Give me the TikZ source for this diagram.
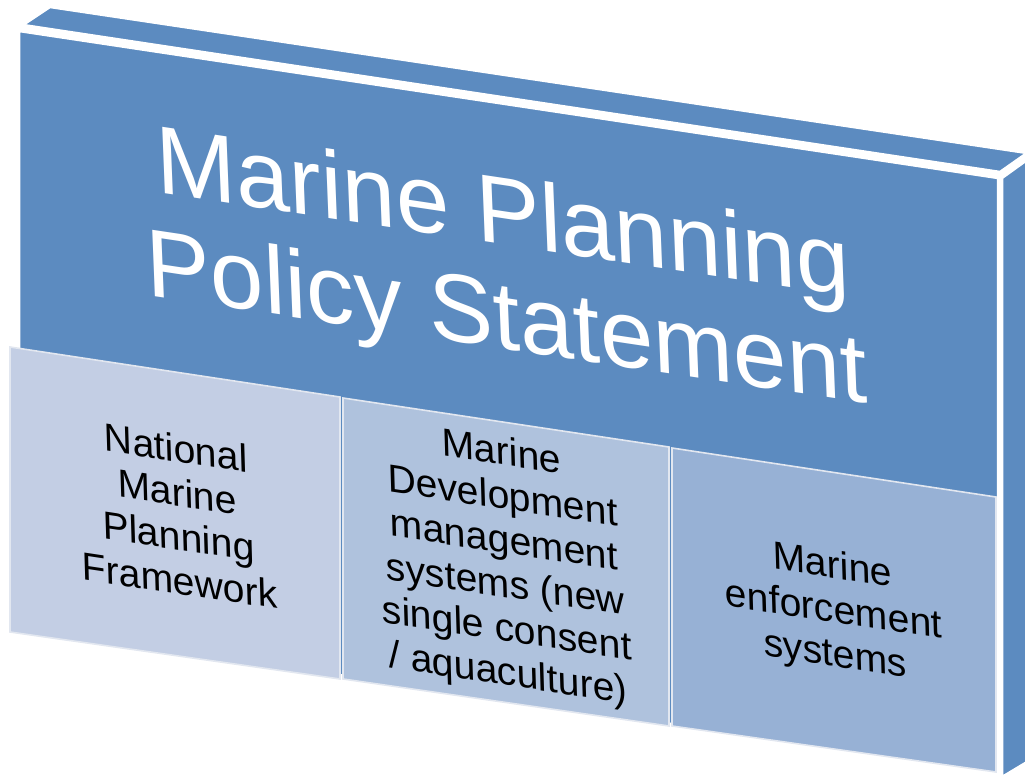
\documentclass[tikz,border=0pt]{standalone}
\usepackage{fontspec}
\setmainfont{Liberation Sans}
\definecolor{panelblue}{RGB}{92,139,192}
\definecolor{boxone}{RGB}{195,206,228}
\definecolor{boxtwo}{RGB}{175,194,221}
\definecolor{boxthree}{RGB}{151,177,213}
\definecolor{boxedge}{RGB}{226,231,240}

\begin{document}
\begin{tikzpicture}[x=1pt,y=-1pt]
\tikzset{
% Faces of the slab and the three boxes in front of it
face/.style={fill=panelblue,draw=white,line width=2.5pt,line join=round},
sub box/.style={draw=boxedge,line width=1.6pt},
% Text follows the slant of the slab
title text/.style={text=white,align=center,inner sep=0pt,
  font=\fontsize{96}{104}\selectfont,yslant=-0.15,xslant=-0.04},
box text/.style={text=black,align=center,inner sep=0pt,
  font=\fontsize{39}{44}\selectfont,yslant=-0.15,xslant=-0.03}
}
\useasboundingbox (0,0) rectangle (1025,775);

% The slab: top, side and front
\draw[face] (23,25) -- (50,7) -- (1027,153) -- (1000,172) -- cycle;
\draw[face] (1002,178) -- (1027,160) -- (1027,762) -- (1002,777) -- cycle;
\draw[face] (19,31) -- (998,178) -- (998,772) -- (19,628) -- cycle;

% The three boxes
\draw[sub box,fill=boxone] (10,347) -- (340,397) -- (340,679) -- (10,632) -- cycle;
\draw[sub box,fill=boxtwo] (343,398) -- (669,447) -- (669,726) -- (343,679) -- cycle;
\draw[sub box,fill=boxthree] (672,448) -- (996,497) -- (996,772) -- (672,726) -- cycle;

% Texts
\node(title)[title text] at (505,272) {Marine Planning\\Policy Statement};
\node(national)[box text] at (178,514) {National\\Marine\\Planning\\Framework};
\node(development)[box text] at (505,565) {Marine\\Development\\management\\systems (new\\single consent\\/ aquaculture)};
\node(enforcement)[box text] at (834,612) {Marine\\enforcement\\systems};
\end{tikzpicture}
\end{document}
